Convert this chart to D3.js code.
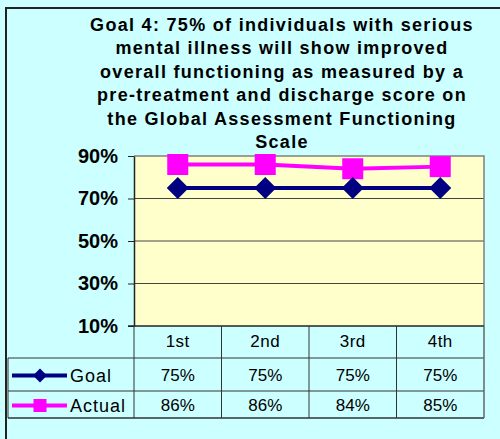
<!doctype html>
<html>
<head>
<title>Goal 4</title>
<script src="https://d3js.org/d3.v7.min.js"></script>
<style>
body { margin:0; background:#CCFFFF; font-family:"Liberation Sans", Arial, sans-serif; }
svg { display:block; }
</style>
</head>
<body>
<div id="chart"></div>
<script>
// chart data
var titleLines = ["Goal 4: 75% of individuals with serious",
                  "mental illness will show improved",
                  "overall functioning as measured by a",
                  "pre-treatment and discharge score on",
                  "the Global Assessment Functioning",
                  "Scale"];
var quarters = ["1st", "2nd", "3rd", "4th"];
var goalValues = [75, 75, 75, 75];
var actualValues = [86, 86, 84, 85];
var yTicks = [10, 30, 50, 70, 90];

var width = 500, height = 439;
var plot = {left:134, right:484, top:156, bottom:326};

var svg = d3.select("#chart").append("svg")
  .attr("width", width).attr("height", height);

svg.append("rect").attr("width", width).attr("height", height).attr("fill", "#CCFFFF");

// outer border (top + left visible)
svg.append("path")
  .attr("d", "M6," + height + "V8H" + width)
  .attr("fill", "none").attr("stroke", "#222").attr("stroke-width", 2);

// title
var title = svg.append("text")
  .attr("text-anchor", "middle")
  .attr("font-weight", "bold").attr("font-size", 18).attr("letter-spacing", 1.3).attr("fill", "#000");
titleLines.forEach(function(t, i){
  title.append("tspan").attr("x", 282).attr("y", 31 + i*23.4).text(t);
});

var x = d3.scaleBand().domain(quarters).range([plot.left, plot.right]);
var y = d3.scaleLinear().domain([10, 90]).range([plot.bottom, plot.top]);

// plot background
svg.append("rect")
  .attr("x", plot.left).attr("y", plot.top)
  .attr("width", plot.right - plot.left).attr("height", plot.bottom - plot.top)
  .attr("fill", "#FFFFCC");

// gridlines
svg.selectAll(".grid").data(yTicks.filter(function(d){ return d > 10 && d < 90; }))
  .enter().append("line")
  .attr("x1", plot.left).attr("x2", plot.right)
  .attr("y1", function(d){ return y(d); }).attr("y2", function(d){ return y(d); })
  .attr("stroke", "#444").attr("stroke-width", 1);

// plot border top/right gray
svg.append("path")
  .attr("d", "M" + plot.left + "," + plot.top + "H" + plot.right + "V" + plot.bottom)
  .attr("fill", "none").attr("stroke", "#808080").attr("stroke-width", 1.5);

// y axis
var yAxis = d3.axisLeft(y).tickValues(yTicks).tickSize(6).tickSizeOuter(0)
  .tickFormat(function(d){ return d + "%"; });
var gy = svg.append("g").attr("transform", "translate(" + plot.left + ",0)").call(yAxis);
gy.select(".domain").attr("stroke", "#222").attr("stroke-width", 1.5);
gy.selectAll(".tick line").attr("stroke", "#222");
gy.selectAll(".tick text")
  .attr("x", -16)
  .attr("font-family", "'Liberation Sans', Arial, sans-serif")
  .attr("font-size", 20).attr("font-weight", "bold").attr("fill", "#000");

// series
var series = [
  {name:"Goal", values:goalValues, color:"#000080", shape:"diamond"},
  {name:"Actual", values:actualValues, color:"#FF00FF", shape:"square"}
];

var line = d3.line()
  .x(function(d, i){ return x(quarters[i]) + x.bandwidth()/2; })
  .y(function(d){ return y(d); });

function marker(sel, shape, color) {
  if (shape === "diamond") {
    sel.append("path").attr("d", "M0,-11L11,0L0,11L-11,0Z").attr("fill", color);
  } else {
    sel.append("rect").attr("x", -10.5).attr("y", -10.5).attr("width", 21).attr("height", 21).attr("fill", color);
  }
}

series.slice().reverse().forEach(function(s){
  svg.append("path").datum(s.values)
    .attr("d", line).attr("fill", "none")
    .attr("stroke", s.color).attr("stroke-width", 4);
  svg.selectAll(".m-" + s.name).data(s.values).enter().append("g")
    .attr("transform", function(d, i){
      return "translate(" + (x(quarters[i]) + x.bandwidth()/2) + "," + y(d) + ")";
    })
    .each(function(){ marker(d3.select(this), s.shape, s.color); });
});

// data table
var rowTop = [plot.bottom, 358, 391];
var rowBottom = 418;
var tableLeft = 8;
var tableColor = "#333";

// header row labels
svg.selectAll(".hdr").data(quarters).enter().append("text")
  .attr("x", function(d){ return x(d) + x.bandwidth()/2; })
  .attr("y", 347)
  .attr("text-anchor", "middle").attr("font-size", 17).attr("letter-spacing", 0.5)
  .text(function(d){ return d; });

// horizontal lines
svg.append("line").attr("x1", tableLeft).attr("x2", plot.right)
  .attr("y1", rowTop[1]).attr("y2", rowTop[1]).attr("stroke", tableColor);
svg.append("line").attr("x1", tableLeft).attr("x2", plot.right)
  .attr("y1", rowTop[2]).attr("y2", rowTop[2]).attr("stroke", tableColor);
svg.append("line").attr("x1", tableLeft).attr("x2", plot.right)
  .attr("y1", rowBottom).attr("y2", rowBottom).attr("stroke", tableColor).attr("stroke-width", 1.5);
svg.append("line").attr("x1", plot.left - 6).attr("x2", plot.right)
  .attr("y1", plot.bottom).attr("y2", plot.bottom).attr("stroke", "#222").attr("stroke-width", 1.5);

// vertical lines
var colEdges = quarters.map(function(q){ return x(q); }).concat([plot.right]);
svg.selectAll(".vline").data(colEdges).enter().append("line")
  .attr("x1", function(d){ return d; }).attr("x2", function(d){ return d; })
  .attr("y1", plot.bottom).attr("y2", rowBottom)
  .attr("stroke", function(d, i){ return i === colEdges.length - 1 ? "#666" : tableColor; })
  .attr("stroke-width", function(d, i){ return i === colEdges.length - 1 ? 1.5 : 1; });
svg.append("line").attr("x1", tableLeft).attr("x2", tableLeft)
  .attr("y1", rowTop[1]).attr("y2", rowBottom).attr("stroke", tableColor);

// rows
series.forEach(function(s, r){
  var cy = (rowTop[r + 1] + (r === 0 ? rowTop[2] : rowBottom)) / 2;
  var lg = svg.append("g");
  lg.append("line").attr("x1", 12).attr("x2", 67).attr("y1", cy + 1).attr("y2", cy + 1)
    .attr("stroke", s.color).attr("stroke-width", 4);
  var mg = lg.append("g").attr("transform", "translate(40," + (cy + 1) + ")");
  if (s.shape === "diamond") {
    mg.append("path").attr("d", "M0,-7L7,0L0,7L-7,0Z").attr("fill", s.color);
  } else {
    mg.append("rect").attr("x", -6.5).attr("y", -6.5).attr("width", 13).attr("height", 13).attr("fill", s.color);
  }
  svg.append("text").attr("x", 70).attr("y", cy + 7)
    .attr("font-size", 18).attr("letter-spacing", 1).text(s.name);
  svg.selectAll(".val-" + s.name).data(s.values).enter().append("text")
    .attr("x", function(d, i){ return x(quarters[i]) + x.bandwidth()/2; })
    .attr("y", cy + 6)
    .attr("text-anchor", "middle").attr("font-size", 17)
    .text(function(d){ return d + "%"; });
});
</script>
</body>
</html>
